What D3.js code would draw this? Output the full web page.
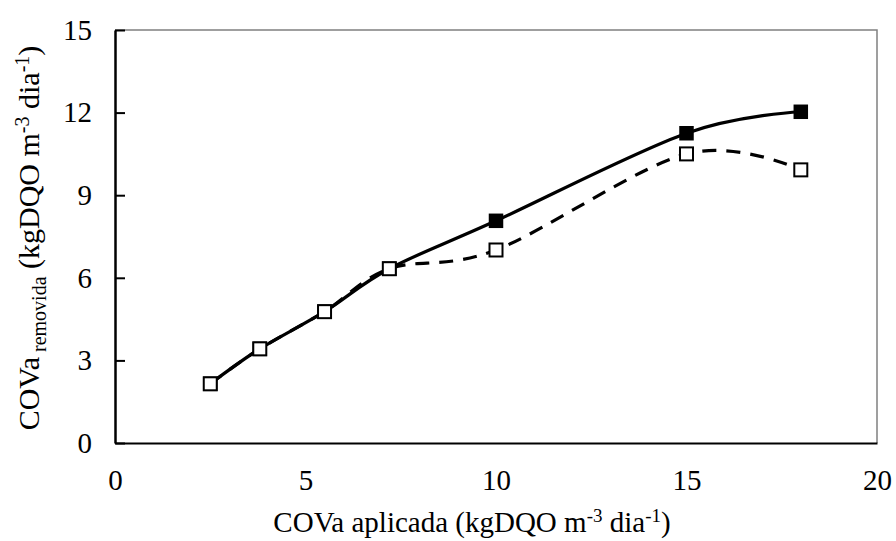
<!DOCTYPE html>
<html>
<head>
<meta charset="utf-8">
<script src="https://cdn.jsdelivr.net/npm/d3@7"></script>
<style>
  body { margin: 0; background: #fff; }
  text { font-family: "Liberation Serif", "Times New Roman", serif; fill: #000; }
</style>
</head>
<body>
<div id="wrapper"></div>
<script>
// data
const aplicada = [2.5, 3.8, 5.5, 7.2, 10, 15, 18]
const removidaFilled = [2.15, 3.42, 4.77, 6.33, 8.07, 11.25, 12.03]
const removidaOpen = [2.15, 3.42, 4.77, 6.33, 7.01, 10.5, 9.92]
const xTicks = [0, 5, 10, 15, 20]
const yTicks = [0, 3, 6, 9, 12, 15]

const dimensions = {
  width: 896,
  height: 541,
  margin: { top: 30, right: 19, bottom: 98, left: 115 },
}
dimensions.boundedWidth = dimensions.width - dimensions.margin.left - dimensions.margin.right
dimensions.boundedHeight = dimensions.height - dimensions.margin.top - dimensions.margin.bottom

const svg = d3.select('#wrapper')
  .append('svg')
    .attr('width', dimensions.width)
    .attr('height', dimensions.height)

const bounds = svg.append('g')
    .attr('transform', `translate(${dimensions.margin.left},${dimensions.margin.top})`)

// scales
const xScale = d3.scaleLinear()
  .domain([0, 20])
  .range([0, dimensions.boundedWidth])
const yScale = d3.scaleLinear()
  .domain([0, 15])
  .range([dimensions.boundedHeight, 0])

// plot frame (grey top/right)
bounds.append('path')
    .attr('d', `M0,0H${dimensions.boundedWidth}V${dimensions.boundedHeight}`)
    .attr('fill', 'none')
    .attr('stroke', '#808080')
    .attr('stroke-width', 1.5)

// y axis, ticks inward
const yAxis = bounds.append('g')
  .call(d3.axisLeft(yScale).tickValues(yTicks).tickSizeInner(-10).tickSizeOuter(0).tickPadding(23))
yAxis.select('.domain').attr('stroke-width', 2.5)
yAxis.selectAll('.tick line').attr('stroke-width', 2)
yAxis.selectAll('.tick text')
    .attr('font-size', 29)
    .attr('font-family', 'Liberation Serif')

// x axis, no ticks
const xAxis = bounds.append('g')
    .attr('transform', `translate(0,${dimensions.boundedHeight})`)
  .call(d3.axisBottom(xScale).tickValues(xTicks).tickSize(0))
xAxis.select('.domain').attr('stroke-width', 2)
xAxis.selectAll('.tick text')
    .attr('font-size', 29)
    .attr('font-family', 'Liberation Serif')
    .attr('y', 47)
    .attr('dy', 0)

// lines
const line = ys => d3.line()
    .x((d, i) => xScale(aplicada[i]))
    .y(d => yScale(d))
    .curve(d3.curveCardinal.tension(0))(ys)

bounds.append('path')
    .attr('d', line(removidaFilled))
    .attr('fill', 'none')
    .attr('stroke', '#000')
    .attr('stroke-width', 3.2)
bounds.append('path')
    .attr('d', line(removidaOpen))
    .attr('fill', 'none')
    .attr('stroke', '#000')
    .attr('stroke-width', 3.2)
    .attr('stroke-dasharray', '14,10')

// markers
const size = 13
bounds.selectAll('.filled')
  .data(removidaFilled)
  .join('rect')
    .attr('class', 'filled')
    .attr('x', (d, i) => xScale(aplicada[i]) - size / 2)
    .attr('y', d => yScale(d) - size / 2)
    .attr('width', size)
    .attr('height', size)
    .attr('fill', '#000')
    .attr('stroke', '#000')
    .attr('stroke-width', 1.5)
bounds.selectAll('.open')
  .data(removidaOpen)
  .join('rect')
    .attr('class', 'open')
    .attr('x', (d, i) => xScale(aplicada[i]) - size / 2)
    .attr('y', d => yScale(d) - size / 2)
    .attr('width', size)
    .attr('height', size)
    .attr('fill', '#fff')
    .attr('stroke', '#000')
    .attr('stroke-width', 2)

// axis titles
svg.append('text')
    .attr('x', 472)
    .attr('y', 532)
    .attr('text-anchor', 'middle')
    .attr('font-size', 29)
    .html('COVa aplicada (kgDQO m<tspan dy="-10" font-size="19">-3</tspan><tspan dy="10"> dia</tspan><tspan dy="-10" font-size="19">-1</tspan><tspan dy="10">)</tspan>')

svg.append('text')
    .attr('transform', 'translate(39,238) rotate(-90)')
    .attr('text-anchor', 'middle')
    .attr('font-size', 30)
    .html('COVa<tspan dy="7" font-size="20"> removida</tspan><tspan dy="-7"> (kgDQO m</tspan><tspan dy="-10" font-size="20">-3</tspan><tspan dy="10"> dia</tspan><tspan dy="-10" font-size="20">-1</tspan><tspan dy="10">)</tspan>')
</script>
</body>
</html>
